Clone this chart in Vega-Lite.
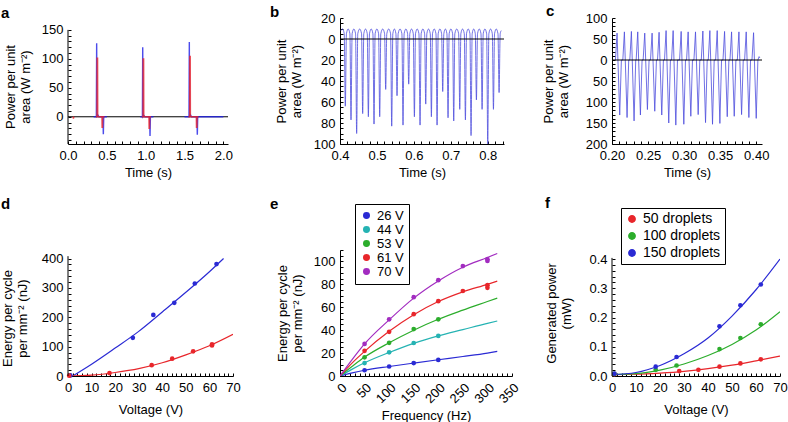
{
  "$schema": "https://vega.github.io/schema/vega-lite/v6.json",
  "background": "white",
  "padding": {"left": 1, "top": 3, "right": 0, "bottom": 0},
  "columns": 3,
  "bounds": "flush",
  "align": "all",
  "spacing": {"column": 100, "row": 106},
  "resolve": {"scale": {"color": "independent"}, "legend": {"color": "independent"}},
  "datasets": {
    "a": [
      {"t":0.33,"v":0,"ch":"ch1","seg":"b1"},{"t":0.365,"v":0,"ch":"ch1","seg":"b1"},{"t":0.369,"v":127,"ch":"ch1","seg":"b1"},{"t":0.373,"v":0,"ch":"ch1","seg":"b1"},{"t":0.385,"v":3,"ch":"ch1","seg":"b1"},{"t":0.40,"v":0,"ch":"ch1","seg":"b1"},{"t":0.45,"v":0,"ch":"ch1","seg":"b1"},{"t":0.455,"v":-30,"ch":"ch1","seg":"b1"},{"t":0.46,"v":0,"ch":"ch1","seg":"b1"},{"t":0.50,"v":0,"ch":"ch1","seg":"b1"},
      {"t":0.93,"v":0,"ch":"ch1","seg":"b2"},{"t":0.958,"v":0,"ch":"ch1","seg":"b2"},{"t":0.962,"v":120,"ch":"ch1","seg":"b2"},{"t":0.966,"v":0,"ch":"ch1","seg":"b2"},{"t":0.978,"v":2,"ch":"ch1","seg":"b2"},{"t":0.99,"v":0,"ch":"ch1","seg":"b2"},{"t":1.051,"v":0,"ch":"ch1","seg":"b2"},{"t":1.056,"v":-33,"ch":"ch1","seg":"b2"},{"t":1.061,"v":0,"ch":"ch1","seg":"b2"},{"t":1.10,"v":0,"ch":"ch1","seg":"b2"},
      {"t":1.50,"v":0,"ch":"ch1","seg":"b3"},{"t":1.558,"v":0,"ch":"ch1","seg":"b3"},{"t":1.562,"v":129,"ch":"ch1","seg":"b3"},{"t":1.566,"v":0,"ch":"ch1","seg":"b3"},{"t":1.578,"v":3,"ch":"ch1","seg":"b3"},{"t":1.59,"v":0,"ch":"ch1","seg":"b3"},{"t":1.66,"v":0,"ch":"ch1","seg":"b3"},{"t":1.665,"v":-31,"ch":"ch1","seg":"b3"},{"t":1.67,"v":0,"ch":"ch1","seg":"b3"},{"t":2.0,"v":0,"ch":"ch1","seg":"b3"},
      {"t":0.065,"v":0,"ch":"ch2","seg":"r0"},{"t":0.07,"v":-3,"ch":"ch2","seg":"r0"},{"t":0.075,"v":0,"ch":"ch2","seg":"r0"},
      {"t":0.36,"v":0,"ch":"ch2","seg":"r1"},{"t":0.373,"v":0,"ch":"ch2","seg":"r1"},{"t":0.375,"v":101,"ch":"ch2","seg":"r1"},{"t":0.381,"v":101,"ch":"ch2","seg":"r1"},{"t":0.383,"v":0,"ch":"ch2","seg":"r1"},{"t":0.437,"v":0,"ch":"ch2","seg":"r1"},{"t":0.439,"v":-18,"ch":"ch2","seg":"r1"},{"t":0.445,"v":-18,"ch":"ch2","seg":"r1"},{"t":0.447,"v":0,"ch":"ch2","seg":"r1"},{"t":0.47,"v":0,"ch":"ch2","seg":"r1"},
      {"t":0.95,"v":0,"ch":"ch2","seg":"r2"},{"t":0.966,"v":0,"ch":"ch2","seg":"r2"},{"t":0.968,"v":100,"ch":"ch2","seg":"r2"},{"t":0.974,"v":100,"ch":"ch2","seg":"r2"},{"t":0.976,"v":0,"ch":"ch2","seg":"r2"},{"t":1.042,"v":0,"ch":"ch2","seg":"r2"},{"t":1.044,"v":-20,"ch":"ch2","seg":"r2"},{"t":1.05,"v":-20,"ch":"ch2","seg":"r2"},{"t":1.052,"v":0,"ch":"ch2","seg":"r2"},{"t":1.07,"v":0,"ch":"ch2","seg":"r2"},
      {"t":1.55,"v":0,"ch":"ch2","seg":"r3"},{"t":1.566,"v":0,"ch":"ch2","seg":"r3"},{"t":1.568,"v":104,"ch":"ch2","seg":"r3"},{"t":1.574,"v":104,"ch":"ch2","seg":"r3"},{"t":1.576,"v":0,"ch":"ch2","seg":"r3"},{"t":1.652,"v":0,"ch":"ch2","seg":"r3"},{"t":1.654,"v":-18,"ch":"ch2","seg":"r3"},{"t":1.66,"v":-18,"ch":"ch2","seg":"r3"},{"t":1.662,"v":0,"ch":"ch2","seg":"r3"},{"t":1.68,"v":0,"ch":"ch2","seg":"r3"}
    ],
    "b": [
      {"t":0.4025,"v":8},{"t":0.407,"v":9.5},{"t":0.4114,"v":5},{"t":0.4144,"v":-64},
      {"t":0.4174,"v":5},{"t":0.4221,"v":9.5},{"t":0.4268,"v":5},{"t":0.4298,"v":-77},
      {"t":0.4328,"v":5},{"t":0.4375,"v":9.5},{"t":0.4421,"v":5},{"t":0.4451,"v":-90},
      {"t":0.4481,"v":5},{"t":0.4532,"v":9.5},{"t":0.4584,"v":5},{"t":0.4614,"v":-71},
      {"t":0.4644,"v":5},{"t":0.4691,"v":9.5},{"t":0.4738,"v":5},{"t":0.4768,"v":-74},
      {"t":0.4798,"v":5},{"t":0.4845,"v":9.5},{"t":0.4891,"v":5},{"t":0.4921,"v":-81},
      {"t":0.4951,"v":5},{"t":0.4998,"v":9.5},{"t":0.5045,"v":5},{"t":0.5075,"v":-74},
      {"t":0.5105,"v":5},{"t":0.5156,"v":9.5},{"t":0.5207,"v":5},{"t":0.5237,"v":-48},
      {"t":0.5267,"v":5},{"t":0.5318,"v":9.5},{"t":0.537,"v":5},{"t":0.54,"v":-83},
      {"t":0.543,"v":5},{"t":0.5472,"v":9.5},{"t":0.5514,"v":5},{"t":0.5544,"v":-54},
      {"t":0.5574,"v":5},{"t":0.5625,"v":9.5},{"t":0.5676,"v":5},{"t":0.5706,"v":-82},
      {"t":0.5736,"v":5},{"t":0.5783,"v":9.5},{"t":0.583,"v":5},{"t":0.586,"v":-43},
      {"t":0.589,"v":5},{"t":0.5937,"v":9.5},{"t":0.5984,"v":5},{"t":0.6014,"v":-74},
      {"t":0.6044,"v":5},{"t":0.609,"v":9.5},{"t":0.6137,"v":5},{"t":0.6167,"v":-82},
      {"t":0.6197,"v":5},{"t":0.6244,"v":9.5},{"t":0.6291,"v":5},{"t":0.6321,"v":-62},
      {"t":0.6351,"v":5},{"t":0.6397,"v":9.5},{"t":0.6444,"v":5},{"t":0.6474,"v":-74},
      {"t":0.6504,"v":5},{"t":0.6551,"v":9.5},{"t":0.6598,"v":5},{"t":0.6628,"v":-82},
      {"t":0.6658,"v":5},{"t":0.6704,"v":9.5},{"t":0.6751,"v":5},{"t":0.6781,"v":-50},
      {"t":0.6811,"v":5},{"t":0.6853,"v":9.5},{"t":0.6895,"v":5},{"t":0.6925,"v":-75},
      {"t":0.6955,"v":5},{"t":0.7002,"v":9.5},{"t":0.7049,"v":5},{"t":0.7079,"v":-78},
      {"t":0.7109,"v":5},{"t":0.716,"v":9.5},{"t":0.7212,"v":5},{"t":0.7242,"v":-67},
      {"t":0.7272,"v":5},{"t":0.7318,"v":9.5},{"t":0.7365,"v":5},{"t":0.7395,"v":-77},
      {"t":0.7425,"v":5},{"t":0.7471,"v":9.5},{"t":0.7518,"v":5},{"t":0.7548,"v":-92},
      {"t":0.7578,"v":5},{"t":0.762,"v":9.5},{"t":0.7663,"v":5},{"t":0.7693,"v":-58},
      {"t":0.7723,"v":5},{"t":0.777,"v":9.5},{"t":0.7817,"v":5},{"t":0.7847,"v":-67},
      {"t":0.7877,"v":5},{"t":0.7923,"v":9.5},{"t":0.797,"v":5},{"t":0.8,"v":-100},
      {"t":0.803,"v":5},{"t":0.8077,"v":9.5},{"t":0.8124,"v":5},{"t":0.8154,"v":-67},
      {"t":0.8184,"v":5},{"t":0.823,"v":9.5},{"t":0.8277,"v":5},{"t":0.8307,"v":-51},
      {"t":0.8337,"v":5},{"t":0.8365,"v":8}
    ],
    "c": [
      {"t":0.2048,"v":0},{"t":0.207,"v":64},{"t":0.2107,"v":-131},{"t":0.213,"v":0},
      {"t":0.215,"v":0},{"t":0.2172,"v":67},{"t":0.2209,"v":-137},{"t":0.2232,"v":0},
      {"t":0.2247,"v":0},{"t":0.2269,"v":68},{"t":0.2306,"v":-145},{"t":0.2329,"v":0},
      {"t":0.2335,"v":0},{"t":0.2357,"v":67},{"t":0.2394,"v":-131},{"t":0.2417,"v":0},
      {"t":0.2432,"v":0},{"t":0.2454,"v":64},{"t":0.2491,"v":-118},{"t":0.2514,"v":0},
      {"t":0.2534,"v":0},{"t":0.2556,"v":64},{"t":0.2593,"v":-122},{"t":0.2616,"v":0},
      {"t":0.2631,"v":0},{"t":0.2653,"v":66},{"t":0.269,"v":-131},{"t":0.2713,"v":0},
      {"t":0.2728,"v":0},{"t":0.275,"v":70},{"t":0.2787,"v":-150},{"t":0.281,"v":0},
      {"t":0.2826,"v":0},{"t":0.2848,"v":70},{"t":0.2885,"v":-155},{"t":0.2908,"v":0},
      {"t":0.2937,"v":0},{"t":0.2959,"v":68},{"t":0.2996,"v":-153},{"t":0.3019,"v":0},
      {"t":0.3034,"v":0},{"t":0.3056,"v":67},{"t":0.3093,"v":-134},{"t":0.3116,"v":0},
      {"t":0.3136,"v":0},{"t":0.3158,"v":67},{"t":0.3195,"v":-130},{"t":0.3218,"v":0},
      {"t":0.3238,"v":0},{"t":0.326,"v":69},{"t":0.3297,"v":-149},{"t":0.332,"v":0},
      {"t":0.3335,"v":0},{"t":0.3357,"v":70},{"t":0.3394,"v":-153},{"t":0.3417,"v":0},
      {"t":0.3437,"v":0},{"t":0.3459,"v":70},{"t":0.3496,"v":-151},{"t":0.3519,"v":0},
      {"t":0.3539,"v":0},{"t":0.3561,"v":68},{"t":0.3598,"v":-135},{"t":0.3621,"v":0},
      {"t":0.3636,"v":0},{"t":0.3658,"v":67},{"t":0.3695,"v":-134},{"t":0.3718,"v":0},
      {"t":0.3738,"v":0},{"t":0.376,"v":67},{"t":0.3797,"v":-130},{"t":0.382,"v":0},
      {"t":0.3839,"v":0},{"t":0.3861,"v":67},{"t":0.3898,"v":-137},{"t":0.3921,"v":0},
      {"t":0.3941,"v":0},{"t":0.3963,"v":65},{"t":0.4,"v":-139},{"t":0.4023,"v":0},
      {"t":0.404,"v":8},{"t":0.405,"v":5}
    ],
    "d_pts": [
      {"V":1,"E":2,"s":"A"},{"V":27.5,"E":130,"s":"A"},{"V":36.2,"E":208,"s":"A"},{"V":45.1,"E":249,"s":"A"},{"V":53.8,"E":315,"s":"A"},{"V":63,"E":381,"s":"A"},
      {"V":0.5,"E":1,"s":"B"},{"V":17.6,"E":10,"s":"B"},{"V":35.5,"E":37,"s":"B"},{"V":44.2,"E":59,"s":"B"},{"V":53.1,"E":84,"s":"B"},{"V":61.1,"E":104,"s":"B"},{"V":61.1,"E":108,"s":"B"}
    ],
    "d_fit": [
      {"V":2,"E":0,"s":"A"},{"V":10,"E":40,"s":"A"},{"V":20,"E":95,"s":"A"},{"V":30,"E":152,"s":"A"},{"V":40,"E":218,"s":"A"},{"V":50,"E":285,"s":"A"},{"V":60,"E":355,"s":"A"},{"V":66,"E":400,"s":"A"},
      {"V":0,"E":0,"s":"B"},{"V":10,"E":3,"s":"B"},{"V":20,"E":12,"s":"B"},{"V":30,"E":25,"s":"B"},{"V":40,"E":45,"s":"B"},{"V":50,"E":72,"s":"B"},{"V":60,"E":103,"s":"B"},{"V":70,"E":142,"s":"B"}
    ],
    "e_pts": [
      {"f":50,"E":5,"volt":"26 V"},{"f":100,"E":8.3,"volt":"26 V"},{"f":150,"E":11.3,"volt":"26 V"},{"f":200,"E":14,"volt":"26 V"},
      {"f":50,"E":11.3,"volt":"44 V"},{"f":100,"E":20.7,"volt":"44 V"},{"f":150,"E":28.8,"volt":"44 V"},{"f":200,"E":35,"volt":"44 V"},
      {"f":50,"E":16.3,"volt":"53 V"},{"f":100,"E":29,"volt":"53 V"},{"f":150,"E":41,"volt":"53 V"},{"f":200,"E":49.5,"volt":"53 V"},
      {"f":50,"E":22,"volt":"61 V"},{"f":100,"E":38.6,"volt":"61 V"},{"f":150,"E":54,"volt":"61 V"},{"f":200,"E":65.3,"volt":"61 V"},{"f":250,"E":74.2,"volt":"61 V"},{"f":300,"E":77,"volt":"61 V"},{"f":300,"E":79.3,"volt":"61 V"},
      {"f":50,"E":28,"volt":"70 V"},{"f":100,"E":49.5,"volt":"70 V"},{"f":150,"E":68.8,"volt":"70 V"},{"f":200,"E":83.7,"volt":"70 V"},{"f":250,"E":96,"volt":"70 V"},{"f":300,"E":100.5,"volt":"70 V"},{"f":300,"E":102,"volt":"70 V"}
    ],
    "e_fit": [
      {"f":0,"E":0,"volt":"26 V"},{"f":25,"E":2.7,"volt":"26 V"},{"f":50,"E":5,"volt":"26 V"},{"f":100,"E":8.3,"volt":"26 V"},{"f":150,"E":11.3,"volt":"26 V"},{"f":200,"E":14.2,"volt":"26 V"},{"f":250,"E":17,"volt":"26 V"},{"f":300,"E":20,"volt":"26 V"},{"f":320,"E":21.5,"volt":"26 V"},
      {"f":0,"E":0,"volt":"44 V"},{"f":25,"E":6,"volt":"44 V"},{"f":50,"E":11.5,"volt":"44 V"},{"f":100,"E":20.5,"volt":"44 V"},{"f":150,"E":28.5,"volt":"44 V"},{"f":200,"E":35,"volt":"44 V"},{"f":250,"E":40.5,"volt":"44 V"},{"f":300,"E":46,"volt":"44 V"},{"f":320,"E":48,"volt":"44 V"},
      {"f":0,"E":0,"volt":"53 V"},{"f":25,"E":8.5,"volt":"53 V"},{"f":50,"E":16.5,"volt":"53 V"},{"f":100,"E":29,"volt":"53 V"},{"f":150,"E":40,"volt":"53 V"},{"f":200,"E":49.5,"volt":"53 V"},{"f":250,"E":57.5,"volt":"53 V"},{"f":300,"E":65,"volt":"53 V"},{"f":320,"E":68,"volt":"53 V"},
      {"f":0,"E":0,"volt":"61 V"},{"f":25,"E":11.5,"volt":"61 V"},{"f":50,"E":21.5,"volt":"61 V"},{"f":100,"E":39,"volt":"61 V"},{"f":150,"E":53.5,"volt":"61 V"},{"f":200,"E":65,"volt":"61 V"},{"f":250,"E":73.5,"volt":"61 V"},{"f":300,"E":80,"volt":"61 V"},{"f":320,"E":82.8,"volt":"61 V"},
      {"f":0,"E":0,"volt":"70 V"},{"f":25,"E":14.5,"volt":"70 V"},{"f":50,"E":28,"volt":"70 V"},{"f":100,"E":49,"volt":"70 V"},{"f":150,"E":68,"volt":"70 V"},{"f":200,"E":83,"volt":"70 V"},{"f":250,"E":95,"volt":"70 V"},{"f":300,"E":103.5,"volt":"70 V"},{"f":320,"E":107,"volt":"70 V"}
    ],
    "f_pts": [
      {"V":1,"P":0.006,"n":"50 droplets"},{"V":28,"P":0.017,"n":"50 droplets"},{"V":36,"P":0.021,"n":"50 droplets"},{"V":44.8,"P":0.032,"n":"50 droplets"},{"V":53.5,"P":0.043,"n":"50 droplets"},{"V":62,"P":0.057,"n":"50 droplets"},
      {"V":1,"P":0.007,"n":"100 droplets"},{"V":18.2,"P":0.021,"n":"100 droplets"},{"V":26.9,"P":0.036,"n":"100 droplets"},{"V":44.8,"P":0.092,"n":"100 droplets"},{"V":53.5,"P":0.13,"n":"100 droplets"},{"V":62,"P":0.177,"n":"100 droplets"},
      {"V":1,"P":0.008,"n":"150 droplets"},{"V":18.2,"P":0.032,"n":"150 droplets"},{"V":26.9,"P":0.065,"n":"150 droplets"},{"V":44.8,"P":0.17,"n":"150 droplets"},{"V":53.5,"P":0.242,"n":"150 droplets"},{"V":62,"P":0.313,"n":"150 droplets"}
    ],
    "f_fit": [
      {"V":0,"P":0.005,"n":"50 droplets"},{"V":10,"P":0.006,"n":"50 droplets"},{"V":20,"P":0.01,"n":"50 droplets"},{"V":30,"P":0.016,"n":"50 droplets"},{"V":40,"P":0.025,"n":"50 droplets"},{"V":50,"P":0.037,"n":"50 droplets"},{"V":60,"P":0.052,"n":"50 droplets"},{"V":70,"P":0.068,"n":"50 droplets"},
      {"V":0,"P":0.005,"n":"100 droplets"},{"V":10,"P":0.008,"n":"100 droplets"},{"V":20,"P":0.02,"n":"100 droplets"},{"V":30,"P":0.041,"n":"100 droplets"},{"V":40,"P":0.07,"n":"100 droplets"},{"V":50,"P":0.108,"n":"100 droplets"},{"V":60,"P":0.157,"n":"100 droplets"},{"V":70,"P":0.22,"n":"100 droplets"},
      {"V":0,"P":0.005,"n":"150 droplets"},{"V":10,"P":0.012,"n":"150 droplets"},{"V":20,"P":0.036,"n":"150 droplets"},{"V":30,"P":0.076,"n":"150 droplets"},{"V":40,"P":0.13,"n":"150 droplets"},{"V":50,"P":0.205,"n":"150 droplets"},{"V":60,"P":0.295,"n":"150 droplets"},{"V":70,"P":0.4,"n":"150 droplets"}
    ]
  },
  "concat": [
    {
      "width": 160, "height": 126,
      "title": {"text": "a", "dx": -67, "offset": -3},
      "layer": [
        {"data": {"values": [{}]}, "mark": {"type": "rule", "color": "black", "strokeWidth": 1},
         "encoding": {"y": {"datum": 0, "type": "quantitative", "scale": {"domain": [-47, 170.5], "nice": false},
                 "axis": {"title": ["Power per unit", "area (W m⁻²)"], "values": [-40,-30,-20,-10,0,10,20,30,40,50,60,70,80,90,100,110,120,130,140,150], "labelExpr": "datum.value % 50 == 0 ? format(datum.value, 'd') : ''", "labelOverlap": false, "domain": false, "titlePadding": 9, "titleY": 68.5}}}},
        {"data": {"name": "a"}, "mark": {"type": "line", "strokeWidth": 1.4, "opacity": 0.8, "clip": true},
         "encoding": {
           "x": {"field": "t", "type": "quantitative", "scale": {"domain": [0, 2.06], "nice": false},
                 "axis": {"title": "Time (s)", "values": [0,0.1,0.2,0.3,0.4,0.5,0.6,0.7,0.8,0.9,1,1.1,1.2,1.3,1.4,1.5,1.6,1.7,1.8,1.9,2], "labelExpr": "round(datum.value*10) % 5 == 0 ? format(datum.value, '.1f') : ''", "labelOverlap": false, "titlePadding": 4}},
           "y": {"field": "v", "type": "quantitative", "scale": {"domain": [-47, 170.5], "nice": false},
                 "axis": {"title": ["Power per unit", "area (W m⁻²)"], "values": [-40,-30,-20,-10,0,10,20,30,40,50,60,70,80,90,100,110,120,130,140,150], "labelExpr": "datum.value % 50 == 0 ? format(datum.value, 'd') : ''", "labelOverlap": false, "domain": false, "titlePadding": 9, "titleY": 68.5}},
           "color": {"field": "ch", "type": "nominal", "scale": {"domain": ["ch1", "ch2"], "range": ["#1f1fe6", "#e8202a"]}, "legend": null},
           "detail": {"field": "seg", "type": "nominal"}
         }},
        {"data": {"values": [{}]}, "mark": {"type": "rule", "color": "black", "strokeWidth": 1},
         "encoding": {"x": {"datum": 0, "type": "quantitative", "scale": {"domain": [0, 2.06], "nice": false},
                 "axis": {"title": "Time (s)", "values": [0,0.1,0.2,0.3,0.4,0.5,0.6,0.7,0.8,0.9,1,1.1,1.2,1.3,1.4,1.5,1.6,1.7,1.8,1.9,2], "labelExpr": "round(datum.value*10) % 5 == 0 ? format(datum.value, '.1f') : ''", "labelOverlap": false, "titlePadding": 4}},
                      "y": {"datum": -47, "type": "quantitative", "scale": {"domain": [-47, 170.5], "nice": false},
                 "axis": {"title": ["Power per unit", "area (W m⁻²)"], "values": [-40,-30,-20,-10,0,10,20,30,40,50,60,70,80,90,100,110,120,130,140,150], "labelExpr": "datum.value % 50 == 0 ? format(datum.value, 'd') : ''", "labelOverlap": false, "domain": false, "titlePadding": 9, "titleY": 68.5}},
                      "y2": {"datum": 150}}}
      ]
    },
    {
      "width": 164, "height": 126,
      "title": {"text": "b", "dx": -70, "offset": -7.5},
      "layer": [
        {"data": {"name": "b"}, "mark": {"type": "line", "color": "#4d4ddd", "strokeWidth": 1, "opacity": 0.8, "interpolate": "monotone", "clip": true},
         "encoding": {
           "x": {"field": "t", "type": "quantitative", "scale": {"domain": [0.4, 0.844], "nice": false, "zero": false},
                 "axis": {"title": "Time (s)", "values": [0.4,0.42,0.44,0.46,0.48,0.5,0.52,0.54,0.56,0.58,0.6,0.62,0.64,0.66,0.68,0.7,0.72,0.74,0.76,0.78,0.8,0.82,0.84], "labelExpr": "round(datum.value*100) % 10 == 0 ? format(datum.value, '.1f') : ''", "labelOverlap": false, "titlePadding": 4}},
           "y": {"field": "v", "type": "quantitative", "scale": {"domain": [-100, 20], "nice": false},
                 "axis": {"title": ["Power per unit", "area (W m⁻²)"], "values": [-100,-95,-90,-85,-80,-75,-70,-65,-60,-55,-50,-45,-40,-35,-30,-25,-20,-15,-10,-5,0,5,10,15,20], "labelExpr": "datum.value % 20 == 0 ? format(abs(datum.value), 'd') : ''", "labelOverlap": false, "titlePadding": 10}}
         }},
        {"data": {"values": [{}]}, "mark": {"type": "rule", "color": "black", "strokeWidth": 1},
         "encoding": {"y": {"datum": 0, "type": "quantitative", "scale": {"domain": [-100, 20], "nice": false},
                 "axis": {"title": ["Power per unit", "area (W m⁻²)"], "values": [-100,-95,-90,-85,-80,-75,-70,-65,-60,-55,-50,-45,-40,-35,-30,-25,-20,-15,-10,-5,0,5,10,15,20], "labelExpr": "datum.value % 20 == 0 ? format(abs(datum.value), 'd') : ''", "labelOverlap": false, "titlePadding": 10}}}}
      ]
    },
    {
      "width": 150, "height": 126,
      "title": {"text": "c", "dx": -66, "offset": -6.5},
      "layer": [
        {"data": {"name": "c"}, "mark": {"type": "line", "color": "#4d4ddd", "strokeWidth": 1, "opacity": 0.8, "clip": true},
         "encoding": {
           "x": {"field": "t", "type": "quantitative", "scale": {"domain": [0.2, 0.408], "nice": false, "zero": false},
                 "axis": {"title": "Time (s)", "values": [0.2,0.21,0.22,0.23,0.24,0.25,0.26,0.27,0.28,0.29,0.3,0.31,0.32,0.33,0.34,0.35,0.36,0.37,0.38,0.39,0.4], "labelExpr": "round(datum.value*100) % 5 == 0 ? format(datum.value, '.2f') : ''", "labelOverlap": false, "titlePadding": 4}},
           "y": {"field": "v", "type": "quantitative", "scale": {"domain": [-200, 100], "nice": false},
                 "axis": {"title": ["Power per unit", "area (W m⁻²)"], "values": [-200,-190,-180,-170,-160,-150,-140,-130,-120,-110,-100,-90,-80,-70,-60,-50,-40,-30,-20,-10,0,10,20,30,40,50,60,70,80,90,100], "labelExpr": "datum.value % 50 == 0 ? format(abs(datum.value), 'd') : ''", "labelOverlap": false, "titlePadding": 15}}
         }},
        {"data": {"values": [{}]}, "mark": {"type": "rule", "color": "black", "strokeWidth": 1},
         "encoding": {"y": {"datum": 0, "type": "quantitative", "scale": {"domain": [-200, 100], "nice": false},
                 "axis": {"title": ["Power per unit", "area (W m⁻²)"], "values": [-200,-190,-180,-170,-160,-150,-140,-130,-120,-110,-100,-90,-80,-70,-60,-50,-40,-30,-20,-10,0,10,20,30,40,50,60,70,80,90,100], "labelExpr": "datum.value % 50 == 0 ? format(abs(datum.value), 'd') : ''", "labelOverlap": false, "titlePadding": 15}}}}
      ]
    },
    {
      "width": 165, "height": 126,
      "title": {"text": "d", "dx": -67, "offset": 38},
      "layer": [
        {"data": {"name": "d_fit"}, "mark": {"type": "line", "strokeWidth": 1.2, "interpolate": "monotone", "clip": true},
         "encoding": {
           "x": {"field": "V", "type": "quantitative", "scale": {"domain": [0, 70], "nice": false},
                 "axis": {"title": "Voltage (V)", "values": [0,2,4,6,8,10,12,14,16,18,20,22,24,26,28,30,32,34,36,38,40,42,44,46,48,50,52,54,56,58,60,62,64,66,68,70], "labelExpr": "datum.value % 10 == 0 ? format(datum.value, 'd') : ''", "labelOverlap": false, "titlePadding": 9}},
           "y": {"field": "E", "type": "quantitative", "scale": {"domain": [0, 429], "nice": false},
                 "axis": {"title": ["Energy per cycle", "per mm⁻² (nJ)"], "values": [0,20,40,60,80,100,120,140,160,180,200,220,240,260,280,300,320,340,360,380,400], "labelExpr": "datum.value % 100 == 0 ? format(datum.value, 'd') : ''", "labelOverlap": false, "domain": false, "titlePadding": 12, "titleY": 68}},
           "color": {"field": "s", "type": "nominal", "scale": {"domain": ["A", "B"], "range": ["#2a2ad4", "#e8262b"]}, "legend": null}
         }},
        {"data": {"name": "d_pts"}, "mark": {"type": "circle", "size": 22, "opacity": 1},
         "encoding": {
           "x": {"field": "V", "type": "quantitative", "scale": {"domain": [0, 70], "nice": false},
                 "axis": {"title": "Voltage (V)", "values": [0,2,4,6,8,10,12,14,16,18,20,22,24,26,28,30,32,34,36,38,40,42,44,46,48,50,52,54,56,58,60,62,64,66,68,70], "labelExpr": "datum.value % 10 == 0 ? format(datum.value, 'd') : ''", "labelOverlap": false, "titlePadding": 9}},
           "y": {"field": "E", "type": "quantitative", "scale": {"domain": [0, 429], "nice": false},
                 "axis": {"title": ["Energy per cycle", "per mm⁻² (nJ)"], "values": [0,20,40,60,80,100,120,140,160,180,200,220,240,260,280,300,320,340,360,380,400], "labelExpr": "datum.value % 100 == 0 ? format(datum.value, 'd') : ''", "labelOverlap": false, "domain": false, "titlePadding": 12, "titleY": 68}},
           "color": {"field": "s", "type": "nominal", "scale": {"domain": ["A", "B"], "range": ["#2a2ad4", "#e8262b"]}, "legend": null}
         }},
        {"data": {"values": [{}]}, "mark": {"type": "rule", "color": "black", "strokeWidth": 1},
         "encoding": {"x": {"datum": 0, "type": "quantitative", "scale": {"domain": [0, 70], "nice": false},
                 "axis": {"title": "Voltage (V)", "values": [0,2,4,6,8,10,12,14,16,18,20,22,24,26,28,30,32,34,36,38,40,42,44,46,48,50,52,54,56,58,60,62,64,66,68,70], "labelExpr": "datum.value % 10 == 0 ? format(datum.value, 'd') : ''", "labelOverlap": false, "titlePadding": 9}},
                      "y": {"datum": 0, "type": "quantitative", "scale": {"domain": [0, 429], "nice": false},
                 "axis": {"title": ["Energy per cycle", "per mm⁻² (nJ)"], "values": [0,20,40,60,80,100,120,140,160,180,200,220,240,260,280,300,320,340,360,380,400], "labelExpr": "datum.value % 100 == 0 ? format(datum.value, 'd') : ''", "labelOverlap": false, "domain": false, "titlePadding": 12, "titleY": 68}},
                      "y2": {"datum": 408}}}
      ]
    },
    {
      "width": 172, "height": 126,
      "title": {"text": "e", "dx": -70, "offset": -8},
      "encoding": {
        "x": {"field": "f", "type": "quantitative", "scale": {"domain": [0, 350], "nice": false},
              "axis": {"title": "Frequency (Hz)", "values": [0,10,20,30,40,50,60,70,80,90,100,110,120,130,140,150,160,170,180,190,200,210,220,230,240,250,260,270,280,290,300,310,320,330,340,350], "labelExpr": "datum.value % 50 == 0 ? format(datum.value, 'd') : ''", "labelOverlap": false, "labelAngle": -45, "titlePadding": 4}},
        "y": {"field": "E", "type": "quantitative", "scale": {"domain": [0, 110], "nice": false},
              "axis": {"title": ["Energy per cycle", "per mm⁻² (nJ)"], "values": [0,5,10,15,20,25,30,35,40,45,50,55,60,65,70,75,80,85,90,95,100,105,110], "labelExpr": "datum.value % 20 == 0 ? format(datum.value, 'd') : ''", "labelOverlap": false, "titlePadding": 9}},
        "color": {"field": "volt", "type": "nominal", "scale": {"domain": ["26 V", "44 V", "53 V", "61 V", "70 V"], "range": ["#2a2ad4", "#25b3b3", "#2cad2c", "#e8262b", "#a22cc0"]},
                  "legend": {"orient": "none", "legendX": 15, "legendY": -46, "title": null, "padding": 5, "rowPadding": 0, "labelFontSize": 13, "symbolSize": 30, "symbolType": "circle", "strokeColor": "black", "fillColor": "white", "labelOffset": 4}}
      },
      "layer": [
        {"data": {"name": "e_fit"}, "mark": {"type": "line", "strokeWidth": 1.2, "interpolate": "monotone", "clip": true}},
        {"data": {"name": "e_pts"}, "mark": {"type": "circle", "size": 22, "opacity": 1}}
      ]
    },
    {
      "width": 168, "height": 126,
      "title": {"text": "f", "dx": -67, "offset": -3},
      "layer": [
        {"data": {"name": "f_fit"}, "mark": {"type": "line", "strokeWidth": 1.2, "interpolate": "monotone", "clip": true},
         "encoding": {
           "x": {"field": "V", "type": "quantitative", "scale": {"domain": [0, 70], "nice": false},
                 "axis": {"title": "Voltage (V)", "values": [0,2,4,6,8,10,12,14,16,18,20,22,24,26,28,30,32,34,36,38,40,42,44,46,48,50,52,54,56,58,60,62,64,66,68,70], "labelExpr": "datum.value % 10 == 0 ? format(datum.value, 'd') : ''", "labelOverlap": false, "titlePadding": 9}},
           "y": {"field": "P", "type": "quantitative", "scale": {"domain": [0, 0.431], "nice": false},
                 "axis": {"title": ["Generated power", "(mW)"], "values": [0,0.02,0.04,0.06,0.08,0.1,0.12,0.14,0.16,0.18,0.2,0.22,0.24,0.26,0.28,0.3,0.32,0.34,0.36,0.38,0.4], "labelExpr": "round(datum.value*100) % 10 == 0 ? format(datum.value, '.1f') : ''", "labelOverlap": false, "domain": false, "titlePadding": 15}},
           "color": {"field": "n", "type": "nominal", "scale": {"domain": ["50 droplets", "100 droplets", "150 droplets"], "range": ["#e8262b", "#2cad2c", "#2a2ad4"]},
                     "legend": {"orient": "none", "legendX": 9, "legendY": -42, "title": null, "padding": 4, "rowPadding": 3, "labelFontSize": 14, "symbolSize": 40, "symbolType": "circle", "strokeColor": "black", "fillColor": "white", "labelOffset": 4}}
         }},
        {"data": {"name": "f_pts"}, "mark": {"type": "circle", "size": 22, "opacity": 1},
         "encoding": {
           "x": {"field": "V", "type": "quantitative", "scale": {"domain": [0, 70], "nice": false},
                 "axis": {"title": "Voltage (V)", "values": [0,2,4,6,8,10,12,14,16,18,20,22,24,26,28,30,32,34,36,38,40,42,44,46,48,50,52,54,56,58,60,62,64,66,68,70], "labelExpr": "datum.value % 10 == 0 ? format(datum.value, 'd') : ''", "labelOverlap": false, "titlePadding": 9}},
           "y": {"field": "P", "type": "quantitative", "scale": {"domain": [0, 0.431], "nice": false},
                 "axis": {"title": ["Generated power", "(mW)"], "values": [0,0.02,0.04,0.06,0.08,0.1,0.12,0.14,0.16,0.18,0.2,0.22,0.24,0.26,0.28,0.3,0.32,0.34,0.36,0.38,0.4], "labelExpr": "round(datum.value*100) % 10 == 0 ? format(datum.value, '.1f') : ''", "labelOverlap": false, "domain": false, "titlePadding": 15}},
           "color": {"field": "n", "type": "nominal", "scale": {"domain": ["50 droplets", "100 droplets", "150 droplets"], "range": ["#e8262b", "#2cad2c", "#2a2ad4"]}}
         }},
        {"data": {"values": [{}]}, "mark": {"type": "rule", "color": "black", "strokeWidth": 1},
         "encoding": {"x": {"datum": 0, "type": "quantitative", "scale": {"domain": [0, 70], "nice": false},
                 "axis": {"title": "Voltage (V)", "values": [0,2,4,6,8,10,12,14,16,18,20,22,24,26,28,30,32,34,36,38,40,42,44,46,48,50,52,54,56,58,60,62,64,66,68,70], "labelExpr": "datum.value % 10 == 0 ? format(datum.value, 'd') : ''", "labelOverlap": false, "titlePadding": 9}},
                      "y": {"datum": 0, "type": "quantitative", "scale": {"domain": [0, 0.431], "nice": false},
                 "axis": {"title": ["Generated power", "(mW)"], "values": [0,0.02,0.04,0.06,0.08,0.1,0.12,0.14,0.16,0.18,0.2,0.22,0.24,0.26,0.28,0.3,0.32,0.34,0.36,0.38,0.4], "labelExpr": "round(datum.value*100) % 10 == 0 ? format(datum.value, '.1f') : ''", "labelOverlap": false, "domain": false, "titlePadding": 15}},
                      "y2": {"datum": 0.404}}}
      ]
    }
  ],
  "config": {
    "font": "Liberation Sans",
    "view": {"stroke": null},
    "axis": {
      "labelFont": "Liberation Sans", "labelFontSize": 13, "labelColor": "#000",
      "titleFont": "Liberation Sans", "titleFontSize": 13, "titleFontWeight": "normal", "titleColor": "#000",
      "domainColor": "#000", "tickColor": "#000", "tickSize": -3, "labelPadding": 8,
      "grid": false, "labelFlush": false, "labelOverlap": false, "titleLineHeight": 15
    },
    "legend": {"labelFont": "Liberation Sans", "labelColor": "#000"},
    "title": {"font": "Liberation Sans", "fontSize": 15, "fontWeight": "bold", "anchor": "start", "frame": "group", "color": "#000", "baseline": "alphabetic"}
  }
}
